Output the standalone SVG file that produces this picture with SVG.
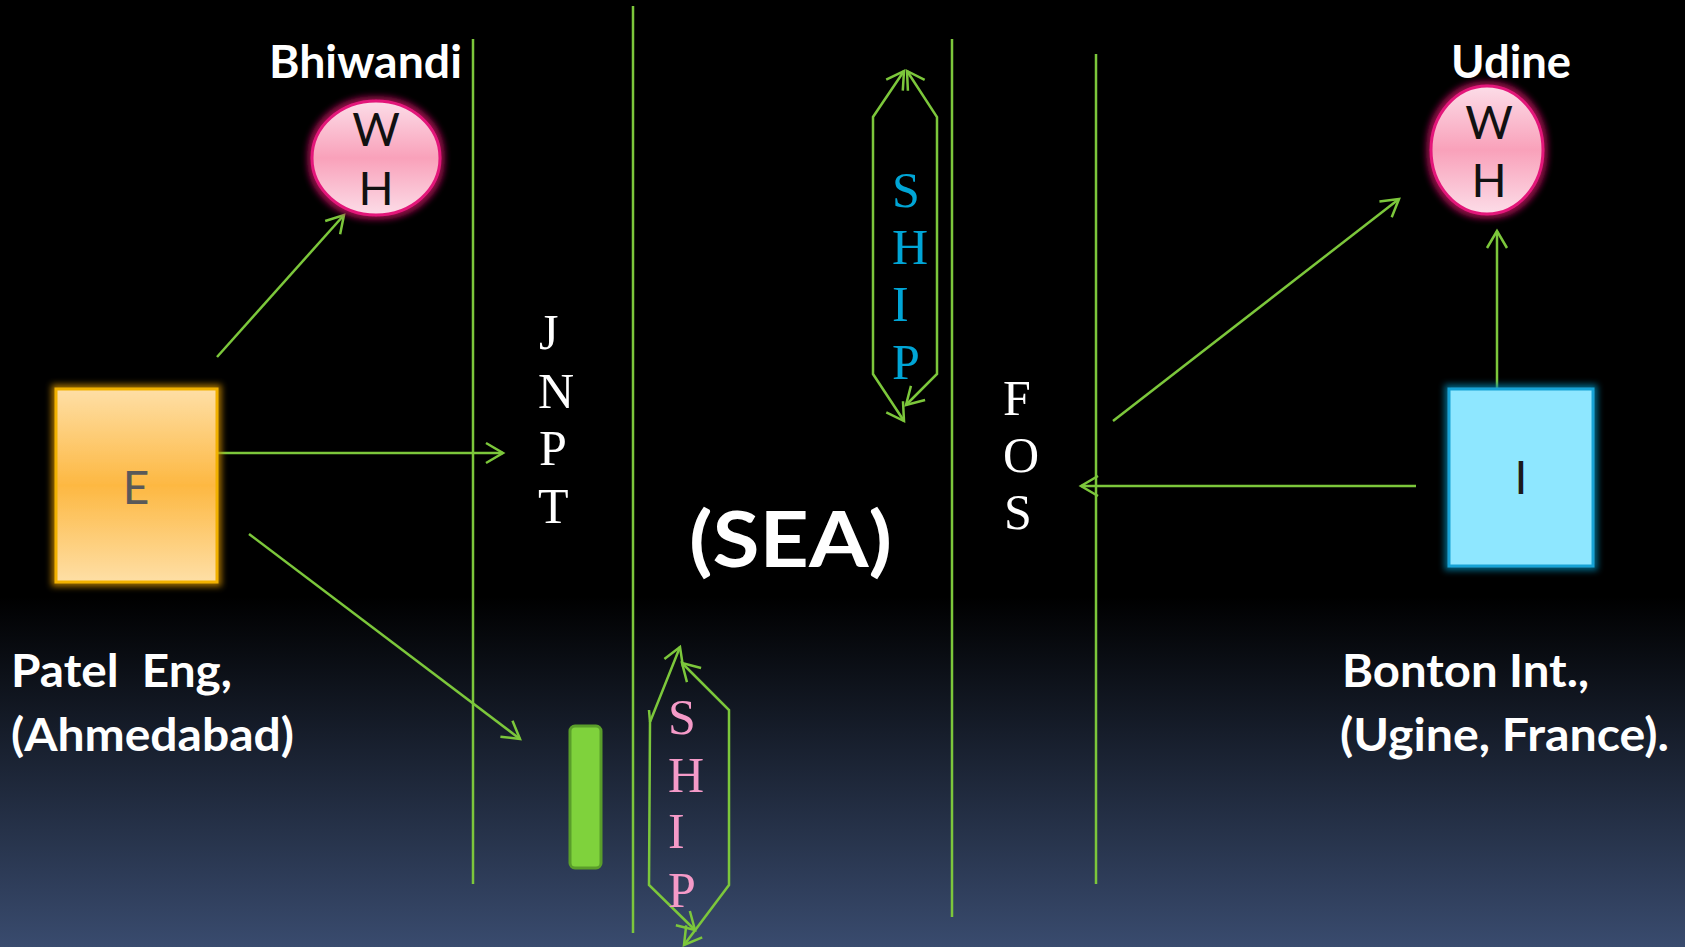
<svg xmlns="http://www.w3.org/2000/svg" width="1685" height="947" viewBox="0 0 1685 947">
<defs>
<linearGradient id="bg" x1="0" y1="0" x2="0" y2="1">
<stop offset="0" stop-color="#000"/>
<stop offset="0.63" stop-color="#000"/>
<stop offset="1" stop-color="#394b6e"/>
</linearGradient>
<linearGradient id="pink" x1="0" y1="0" x2="0" y2="1">
<stop offset="0" stop-color="#fcdde8"/>
<stop offset="0.5" stop-color="#f9a1ba"/>
<stop offset="1" stop-color="#fcdde8"/>
</linearGradient>
<linearGradient id="orange" x1="0" y1="0" x2="0" y2="1">
<stop offset="0" stop-color="#fedfa6"/>
<stop offset="0.5" stop-color="#fdb842"/>
<stop offset="1" stop-color="#fedfa6"/>
</linearGradient>
<filter id="glowPink" x="-30%" y="-30%" width="160%" height="160%">
<feMorphology in="SourceAlpha" operator="dilate" radius="3" result="d"/>
<feGaussianBlur in="d" stdDeviation="3" result="b"/>
<feFlood flood-color="#c0105e" flood-opacity="0.8"/>
<feComposite in2="b" operator="in" result="g"/>
<feMerge><feMergeNode in="g"/><feMergeNode in="SourceGraphic"/></feMerge>
</filter>
<filter id="glowGold" x="-30%" y="-30%" width="160%" height="160%">
<feMorphology in="SourceAlpha" operator="dilate" radius="3" result="d"/>
<feGaussianBlur in="d" stdDeviation="3" result="b"/>
<feFlood flood-color="#c98a00" flood-opacity="0.8"/>
<feComposite in2="b" operator="in" result="g"/>
<feMerge><feMergeNode in="g"/><feMergeNode in="SourceGraphic"/></feMerge>
</filter>
<filter id="glowCyan" x="-30%" y="-30%" width="160%" height="160%">
<feMorphology in="SourceAlpha" operator="dilate" radius="3" result="d"/>
<feGaussianBlur in="d" stdDeviation="3" result="b"/>
<feFlood flood-color="#0a7fa6" flood-opacity="0.8"/>
<feComposite in2="b" operator="in" result="g"/>
<feMerge><feMergeNode in="g"/><feMergeNode in="SourceGraphic"/></feMerge>
</filter>
<marker id="ah" viewBox="-20 -12 24 24" refX="0" refY="0" markerWidth="24" markerHeight="24" markerUnits="userSpaceOnUse" orient="auto-start-reverse">
<path d="M-17,-10 L0,0 L-17,10" fill="none" stroke="#7cc73b" stroke-width="2.5"/>
</marker>
<style>
.ln{fill:none;stroke:#7cc73b;stroke-width:2.5}
.arr{fill:none;stroke:#7cc73b;stroke-width:2.5;marker-end:url(#ah)}
.dbl{fill:none;stroke:#7cc73b;stroke-width:2.5;marker-start:url(#ah);marker-end:url(#ah)}
.lbl{font-family:Lato,"Liberation Sans",sans-serif;font-weight:bold;fill:#fff;white-space:pre}
.wh{font-family:Lato,"Liberation Sans",sans-serif;font-size:46px;fill:#111;text-anchor:middle}
.ser{font-family:"Liberation Serif","Times New Roman",serif;font-size:50px}
</style>
</defs>
<rect width="1685" height="947" fill="url(#bg)"/>

<g id="connectors">
<line class="ln" x1="473" y1="39" x2="473" y2="884"/>
<line class="ln" x1="633" y1="6" x2="633" y2="933"/>
<line class="ln" x1="952" y1="39" x2="952" y2="917"/>
<line class="ln" x1="1096" y1="54" x2="1096" y2="884"/>
<path class="arr" d="M217,357 L344,215"/>
<path class="arr" d="M217,453 L503,453"/>
<path class="arr" d="M249,534 L520,739"/>
<path class="arr" d="M1416,486 L1081,486"/>
<path class="arr" d="M1113,421 L1399,199"/>
<path class="arr" d="M1497,389 L1497,231"/>
<path class="dbl" d="M904,71 L873,117 L873,374 L904,421"/>
<path class="dbl" d="M907,71 L937,117 L937,374 L906,405"/>
<path class="dbl" d="M680,647 L650,722 L649,885 L695,930"/>
<path class="ln" d="M649,710 L650,722"/>
<path class="dbl" d="M682,663 L729,710 L729,885 L684,945"/>
</g>

<g id="bhiwandi">
<text class="lbl" x="269" y="78" font-size="46" textLength="193" lengthAdjust="spacingAndGlyphs">Bhiwandi</text>
<ellipse cx="376" cy="158" rx="64" ry="57" fill="url(#pink)" stroke="#e3187a" stroke-width="3" filter="url(#glowPink)"/>
<text class="wh" x="376" y="146">W</text>
<text class="wh" x="376" y="205">H</text>
</g>

<g id="udine">
<text class="lbl" x="1451" y="78" font-size="46" textLength="120" lengthAdjust="spacingAndGlyphs">Udine</text>
<ellipse cx="1487" cy="150" rx="56" ry="64" fill="url(#pink)" stroke="#e3187a" stroke-width="3" filter="url(#glowPink)"/>
<text class="wh" x="1489" y="139">W</text>
<text class="wh" x="1489" y="197">H</text>
</g>

<g id="exporter">
<rect x="56" y="389" width="161" height="193" fill="url(#orange)" stroke="#f2b100" stroke-width="3" filter="url(#glowGold)"/>
<text x="136" y="504" font-family="Lato,'Liberation Sans',sans-serif" font-size="46" fill="#595959" text-anchor="middle">E</text>
</g>

<g id="importer">
<rect x="1449" y="389" width="144" height="177" fill="#8ee7ff" stroke="#18a3d6" stroke-width="3" filter="url(#glowCyan)"/>
<text x="1521" y="494" font-family="Lato,'Liberation Sans',sans-serif" font-size="46" fill="#1a1a1a" text-anchor="middle">I</text>
</g>

<g id="greenbar">
<rect x="570" y="726" width="31" height="142" rx="5" fill="#7fd23c" stroke="#5a9e2a" stroke-width="3"/>
</g>

<g id="jnpt" class="ser" fill="#fff">
<text class="ser" x="539" y="349" fill="#fff">J</text>
<text class="ser" x="538" y="408" fill="#fff">N</text>
<text class="ser" x="539" y="465" fill="#fff">P</text>
<text class="ser" x="538" y="523" fill="#fff">T</text>
</g>

<g id="fos">
<text class="ser" x="1003" y="415" fill="#fff">F</text>
<text class="ser" x="1003" y="472" fill="#fff">O</text>
<text class="ser" x="1004" y="529" fill="#fff">S</text>
</g>

<g id="ship-top">
<text class="ser" x="892" y="207" fill="#00a5d6">S</text>
<text class="ser" x="892" y="264" fill="#00a5d6">H</text>
<text class="ser" x="892" y="321" fill="#00a5d6">I</text>
<text class="ser" x="892" y="379" fill="#00a5d6">P</text>
</g>

<g id="ship-bottom">
<text class="ser" x="668" y="734" fill="#f59ac8">S</text>
<text class="ser" x="668" y="792" fill="#f59ac8">H</text>
<text class="ser" x="668" y="848" fill="#f59ac8">I</text>
<text class="ser" x="668" y="907" fill="#f59ac8">P</text>
</g>

<g id="sea">
<text class="lbl" x="689" y="567" font-size="76" textLength="203" lengthAdjust="spacingAndGlyphs">(SEA)</text>
</g>

<g id="patel">
<text class="lbl" x="11" y="687" font-size="46" textLength="221" lengthAdjust="spacingAndGlyphs">Patel  Eng,</text>
<text class="lbl" x="11" y="751" font-size="46" textLength="283" lengthAdjust="spacingAndGlyphs">(Ahmedabad)</text>
</g>

<g id="bonton">
<text class="lbl" x="1342" y="687" font-size="46" textLength="247" lengthAdjust="spacingAndGlyphs">Bonton Int.,</text>
<text class="lbl" x="1340" y="751" font-size="46" textLength="329" lengthAdjust="spacingAndGlyphs">(Ugine, France).</text>
</g>
</svg>
